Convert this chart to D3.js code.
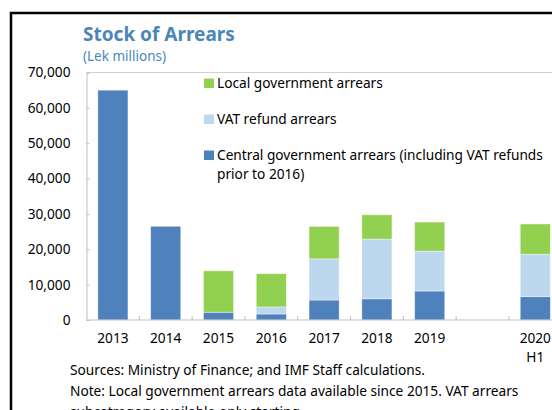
<!DOCTYPE html>
<html>
<head>
<meta charset="utf-8">
<script src="https://cdn.jsdelivr.net/npm/d3@7"></script>
<style>
  body { margin: 0; background: #fff; }
  svg text { font-family: "Noto Sans", "Open Sans", sans-serif; }
</style>
</head>
<body>
<div id="chart"></div>
<script>
const categories = ["2013", "2014", "2015", "2016", "2017", "2018", "2019", "", "2020\nH1"];
const central = [65000, 26500, 2200, 1700, 5650, 6000, 8200, null, 6600];
const vat = [0, 0, 0, 2000, 11650, 16900, 11300, null, 12000];
const local = [0, 0, 11700, 9400, 9150, 6850, 8200, null, 8550];
const yTicks = [0, 10000, 20000, 30000, 40000, 50000, 60000, 70000];
const seriesNames = ["Local government arrears", "VAT refund arrears", "Central government arrears (including VAT refunds|prior to 2016)"];

const width = 552;
const height = 410;
const margin = { top: 72.5, left: 86.5 };
const colors = { central: "#4f81bd", vat: "#bdd7ee", local: "#92d050" };
const fs = "13.7px";

const svg = d3.select("#chart").append("svg")
  .attr("width", width)
  .attr("height", height);

// outer frame (runs off the right/bottom edge)
svg.append("path")
  .attr("d", "M11,420 V13 H560")
  .attr("fill", "none")
  .attr("stroke", "#000")
  .attr("stroke-width", 2.5);

svg.append("text")
  .attr("x", 83).attr("y", 41)
  .attr("fill", "#4a86b8")
  .style("font-size", "19px").style("font-weight", "bold")
  .text("Stock of Arrears");

svg.append("text")
  .attr("x", 83).attr("y", 61)
  .attr("fill", "#4a86b8")
  .style("font-size", "13.5px")
  .text("(Lek millions)");

const x = d3.scaleBand()
  .domain(d3.range(categories.length))
  .range([margin.left, margin.left + 52.8 * categories.length])
  .paddingInner(0.43).paddingOuter(0.215);

const y = d3.scaleLinear()
  .domain([0, 70000])
  .range([320, margin.top]);

// plot area top border
svg.append("line")
  .attr("x1", margin.left).attr("x2", width)
  .attr("y1", y(70000)).attr("y2", y(70000))
  .attr("stroke", "#d0d0d0").attr("stroke-width", 1);

const table = categories.map((c, i) => ({ i, central: central[i] || 0, vat: vat[i] || 0, local: local[i] || 0 }));
const stack = d3.stack().keys(["central", "vat", "local"])(table);

svg.append("g")
  .selectAll("g")
  .data(stack)
  .join("g")
    .attr("fill", d => colors[d.key])
  .selectAll("rect")
  .data(d => d.filter(p => p[1] > p[0]))
  .join("rect")
    .attr("x", d => x(d.data.i))
    .attr("width", x.bandwidth())
    .attr("y", d => y(d[1]))
    .attr("height", d => y(d[0]) - y(d[1]))
    .attr("stroke", "#fff")
    .attr("stroke-opacity", 0.5)
    .attr("stroke-width", 0.8);

// y axis
const yAxis = svg.append("g")
  .attr("transform", `translate(${margin.left},0)`)
  .call(d3.axisLeft(y).tickValues(yTicks).tickFormat(d3.format(",")).tickSize(-3).tickPadding(16));
yAxis.select(".domain").attr("stroke", "#bfbfbf");
yAxis.selectAll(".tick line").attr("stroke", "#bfbfbf");
yAxis.selectAll("text").style("font-size", fs).attr("fill", "#000");

// x axis: boundary ticks between bands
const step = x.step();
const boundaries = d3.range(1, categories.length).map(i => margin.left + i * step);
const xg = svg.append("g");
xg.append("line")
  .attr("x1", margin.left).attr("x2", width)
  .attr("y1", y(0)).attr("y2", y(0))
  .attr("stroke", "#bfbfbf").attr("stroke-width", 1.2);
xg.selectAll("line.tk")
  .data(boundaries)
  .join("line")
    .attr("class", "tk")
    .attr("x1", d => d).attr("x2", d => d)
    .attr("y1", y(0)).attr("y2", y(0) - 4)
    .attr("stroke", "#bfbfbf");

xg.selectAll("text")
  .data(categories.map((c, i) => ({ c, i })))
  .join("text")
    .attr("x", d => x(d.i) + x.bandwidth() / 2)
    .attr("y", 343)
    .attr("text-anchor", "middle")
    .style("font-size", fs)
    .each(function (d) {
      d.c.split("\n").forEach((t, k) => {
        d3.select(this).append("tspan")
          .attr("x", x(d.i) + x.bandwidth() / 2)
          .attr("dy", k === 0 ? 0 : 19)
          .text(t);
      });
    });

// legend
const legend = svg.append("g");
const legendKeys = ["local", "vat", "central"];
seriesNames.forEach((name, i) => {
  const ly = 83 + i * 36;
  legend.append("rect")
    .attr("x", 204).attr("y", ly - 4.5)
    .attr("width", 10).attr("height", 9.5)
    .attr("fill", colors[legendKeys[i]]);
  name.split("|").forEach((t, k) => {
    legend.append("text")
      .attr("x", 217).attr("y", ly + 5 + k * 19)
      .style("font-size", fs)
      .text(t);
  });
});

// footnotes
const notes = [
  "Sources: Ministry of Finance; and IMF Staff calculations.",
  "Note: Local government arrears data available since 2015. VAT arrears",
  "subcatregory available only starting"
];
notes.forEach((t, i) => {
  svg.append("text")
    .attr("x", 70).attr("y", 375 + i * 21)
    .style("font-size", fs)
    .text(t);
});
</script>
</body>
</html>
